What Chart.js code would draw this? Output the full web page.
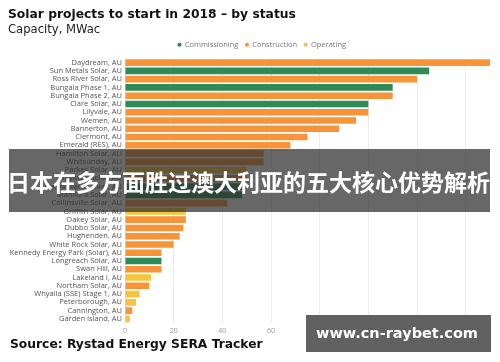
<!DOCTYPE html>
<html><head><meta charset="utf-8">
<script src="https://cdn.jsdelivr.net/npm/chart.js@4/dist/chart.umd.min.js"></script>
<style>
html,body{margin:0;padding:0;background:#fff;}
#wrap{position:relative;width:500px;height:362px;overflow:hidden;background:#fff;}
#c{position:absolute;left:0;top:0;}
.t{position:absolute;white-space:nowrap;font-family:"DejaVu Sans",sans-serif;color:#111;}
#title{left:8px;top:7px;font-size:12.3px;font-weight:bold;}
#sub{left:8px;top:22px;font-size:11.6px;color:#222;}
#src{left:10px;top:337px;font-size:12.3px;font-weight:bold;}
#band{position:absolute;left:9px;top:149px;width:481px;height:63px;background:rgba(45,45,45,0.72);}
#bandtxt{position:absolute;left:7px;top:167px;font-family:"Noto Sans CJK SC",sans-serif;font-weight:bold;font-size:23px;line-height:28px;color:#fff;white-space:nowrap;}
#wm{position:absolute;left:306px;top:315px;width:185px;height:37px;background:rgba(80,80,80,0.9);}
#wmtxt{position:absolute;left:316px;top:325px;font-family:"DejaVu Sans",sans-serif;font-weight:bold;font-size:14.5px;color:#fff;white-space:nowrap;}
</style></head>
<body><div id="wrap">
<canvas id="c" width="500" height="362"></canvas>
<div class="t" id="title">Solar projects to start in 2018 – by status</div>
<div class="t" id="sub">Capacity, MWac</div>
<div class="t" id="src">Source: Rystad Energy SERA Tracker</div>
<div id="band"></div>
<div id="bandtxt">日本在多方面胜过澳大利亚的五大核心优势解析</div>
<div id="wm"></div>
<div id="wmtxt">www.cn-raybet.com</div>
</div>
<script>
const categories = [
 "Daydream, AU","Sun Metals Solar, AU","Ross River Solar, AU","Bungala Phase 1, AU","Bungala Phase 2, AU",
 "Clare Solar, AU","Lilyvale, AU","Wemen, AU","Bannerton, AU","Clermont, AU","Emerald (RES), AU",
 "Hamilton Solar, AU","Whitsunday, AU","Parkes Solar, AU","Hayman Solar, AU","Gannawarra Solar, AU",
 "Manildra Solar, AU","Collinsville Solar, AU","Griffith Solar, AU","Oakey Solar, AU","Dubbo Solar, AU",
 "Hughenden, AU","White Rock Solar, AU","Kennedy Energy Park (Solar), AU","Longreach Solar, AU",
 "Swan Hill, AU","Lakeland I, AU","Northam Solar, AU","Whyalla (SSE) Stage 1, AU","Peterborough, AU",
 "Cannington, AU","Garden Island, AU"];
const capacity = [150,125,120,110,110,100,100,95,88,75,68,57,57,50,50,48,48,42,25,25,24,22.5,20,15,15,15,10.7,10,6,4.5,3,2];
const status = ["Construction","Commissioning","Construction","Commissioning","Construction",
 "Commissioning","Construction","Construction","Construction","Construction","Construction",
 "Construction","Construction","Operating","Construction","Commissioning",
 "Commissioning","Construction","Operating","Construction","Construction",
 "Construction","Construction","Construction","Commissioning",
 "Construction","Operating","Construction","Operating","Operating",
 "Construction","Operating"];
const statuses = ["Commissioning","Construction","Operating"];
const statusColors = ["#2e8b57","#f7943a","#f2c53d"];
const xTicks = [0,20,40,60,80,100,120,140];

const datasets = statuses.map((s,i)=>({
  label:s,
  data:capacity.map((v,j)=>status[j]===s?v:null),
  backgroundColor:statusColors[i],
  borderWidth:0,
  barPercentage:0.8,
  categoryPercentage:1
}));

const legendShift = {
  id:'legendShift',
  beforeDraw(chart){ if(chart.legend){ chart.legend.left += 34; } }
};

new Chart(document.getElementById('c'),{
  type:'bar',
  data:{labels:categories,datasets},
  plugins:[legendShift],
  options:{
    indexAxis:'y',
    responsive:false,
    animation:false,
    layout:{padding:{top:34,bottom:25,left:0,right:10}},
    plugins:{
      legend:{position:'top',align:'center',
        labels:{usePointStyle:true,pointStyle:'circle',boxWidth:3,boxHeight:3,padding:7,
          color:'#777',font:{family:'Open Sans',size:7.5}}},
      tooltip:{enabled:false}
    },
    scales:{
      x:{stacked:true,min:0,max:150,
        afterBuildTicks:(s)=>{s.ticks=xTicks.map(v=>({value:v}));},
        grid:{color:'#ececec',drawTicks:false},
        border:{display:false},
        ticks:{color:'#999',font:{family:'Open Sans',size:7},padding:4},
        afterFit:(s)=>{s.height=14;}
      },
      y:{stacked:true,
        grid:{display:false,drawTicks:false},
        border:{display:true,color:'#ddd'},
        ticks:{color:'#555',font:{family:'Open Sans',size:7.5},padding:3,autoSkip:false},
        afterFit:(s)=>{s.width=125;}
      }
    }
  }
});
</script>
</body></html>
